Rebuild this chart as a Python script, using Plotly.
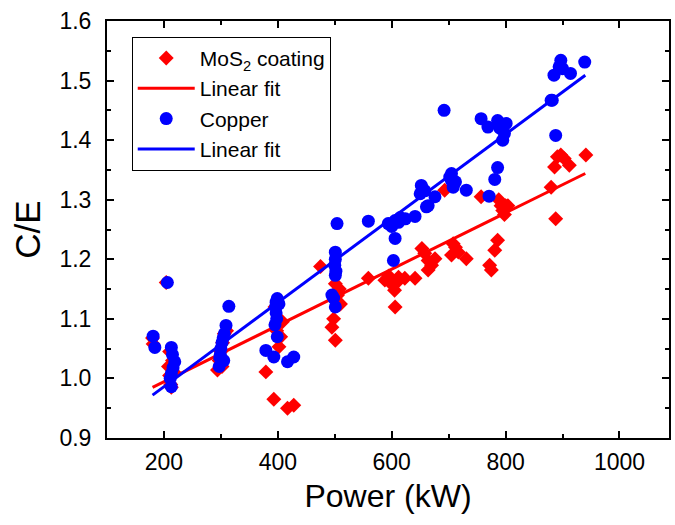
import plotly.graph_objects as go

# MoS2 coating data (Power kW, C/E)
mos2_x = [180, 181, 204, 208, 210, 212, 213, 215, 218, 210,
          294, 297, 300, 303, 306, 310, 302,
          379, 393, 402, 408, 398, 405, 417, 428, 395,
          475, 495, 501, 501, 503, 505, 508, 510, 498,
          559, 588, 595, 600, 605, 608, 612, 606, 623,
          641, 653, 658, 664, 664, 676, 670,
          693, 705, 708, 712, 717, 731,
          757, 772, 775, 781, 786, 788, 792, 795, 798, 800, 804,
          880, 886, 888, 891, 897, 903, 912, 941]
mos2_y = [1.068, 1.058, 1.161, 1.020, 1.005, 0.990, 0.985, 1.030, 1.010, 1.045,
          1.014, 1.030, 1.045, 1.060, 1.075, 1.080, 1.020,
          1.011, 0.965, 1.053, 1.095, 1.080, 1.070, 0.950, 0.955, 1.120,
          1.188, 1.086, 1.064, 1.159, 1.131, 1.140, 1.150, 1.125, 1.100,
          1.168, 1.165, 1.172, 1.158, 1.148, 1.160, 1.170, 1.120, 1.168,
          1.168, 1.218, 1.210, 1.198, 1.182, 1.201, 1.190,
          1.316, 1.207, 1.226, 1.220, 1.212, 1.201,
          1.305, 1.190, 1.182, 1.215, 1.232, 1.300, 1.290, 1.282, 1.275, 1.290, 1.290,
          1.321, 1.355, 1.268, 1.372, 1.375, 1.369, 1.358, 1.375]

# Copper data
cu_x = [181, 184, 206, 213, 219, 213, 213, 216, 211, 215,
        314, 309, 297, 298, 300, 302, 304, 306, 299, 305,
        399, 397, 396, 397, 398, 395, 399, 379, 393, 417, 428, 402,
        501, 501, 500, 502, 501, 504, 495, 501, 498,
        559, 594, 600, 606, 612, 624, 606, 603, 615,
        641, 650, 652, 655, 661, 664, 676, 658,
        692, 705, 705, 708, 702, 731, 712,
        757, 769, 771, 781, 786, 786, 795, 798, 801, 790,
        880, 882, 885, 888, 894, 897, 914, 939, 900]
cu_y = [1.071, 1.052, 1.161, 1.052, 1.028, 1.008, 0.986, 1.018, 1.000, 1.040,
        1.121, 1.089, 1.020, 1.035, 1.050, 1.060, 1.068, 1.075, 1.040, 1.030,
        1.134, 1.128, 1.120, 1.110, 1.100, 1.090, 1.070, 1.047, 1.036, 1.028, 1.036, 1.125,
        1.212, 1.200, 1.190, 1.180, 1.173, 1.260, 1.140, 1.120, 1.135,
        1.264, 1.260, 1.255, 1.265, 1.262, 1.268, 1.235, 1.198, 1.270,
        1.272, 1.310, 1.324, 1.318, 1.288, 1.290, 1.305, 1.315,
        1.450, 1.344, 1.332, 1.321, 1.338, 1.316, 1.330,
        1.436, 1.422, 1.306, 1.334, 1.354, 1.433, 1.400, 1.411, 1.428, 1.420,
        1.467, 1.467, 1.509, 1.408, 1.523, 1.534, 1.512, 1.531, 1.520]

# Linear fit endpoints
fit_x = [180, 940]
mos2_fit_y = [0.985, 1.344]
cu_fit_y = [0.972, 1.509]

x_tickvals = [200, 400, 600, 800, 1000]
y_tickvals = [0.9, 1.0, 1.1, 1.2, 1.3, 1.4, 1.5, 1.6]
y_ticktext = ["0.9", "1.0", "1.1", "1.2", "1.3", "1.4", "1.5", "1.6"]

FONT = "Liberation Sans, Arial, sans-serif"

fig = go.Figure()
fig.add_trace(go.Scatter(x=mos2_x, y=mos2_y, mode="markers", name="MoS<sub>2</sub> coating",
                         marker=dict(symbol="diamond", size=11.5, color="#ff0000", line=dict(width=0))))
fig.add_trace(go.Scatter(x=fit_x, y=mos2_fit_y, mode="lines", name="Linear fit",
                         line=dict(color="#ff0000", width=3)))
fig.add_trace(go.Scatter(x=cu_x, y=cu_y, mode="markers", name="Copper",
                         marker=dict(symbol="circle", size=13, color="#0000ff", line=dict(width=0))))
fig.add_trace(go.Scatter(x=fit_x, y=cu_fit_y, mode="lines", name="Linear fit",
                         line=dict(color="#0000ff", width=3)))

axis_common = dict(showline=True, linecolor="black", linewidth=2, mirror="ticks",
                   ticks="inside", ticklen=7, tickwidth=2, tickcolor="black",
                   showgrid=False, zeroline=False,
                   tickfont=dict(family=FONT, size=23, color="black"))

fig.update_xaxes(range=[100, 1087], tickvals=x_tickvals,
                 minor=dict(ticks="inside", ticklen=4, tickwidth=2, tickcolor="black", dtick=100, tick0=0),
                 title=dict(text="Power (kW)", font=dict(family=FONT, size=32, color="black"), standoff=11),
                 ticklabelstandoff=2,
                 **axis_common)
fig.update_yaxes(range=[0.9, 1.6], tickvals=y_tickvals, ticktext=y_ticktext,
                 minor=dict(ticks="inside", ticklen=4, tickwidth=2, tickcolor="black", dtick=0.05, tick0=0.9),
                 title=dict(text="C/E", font=dict(family=FONT, size=35, color="black"), standoff=8),
                 ticklabelstandoff=9,
                 **axis_common)

fig.update_layout(
    width=675, height=525,
    margin=dict(l=107, r=4, t=21, b=87),
    paper_bgcolor="white", plot_bgcolor="white",
    font=dict(family=FONT, color="black"),
    legend=dict(x=0.044, y=0.962, xanchor="left", yanchor="top",
                bordercolor="black", borderwidth=1, bgcolor="white",
                font=dict(family=FONT, size=21, color="black"),
                itemwidth=57, tracegroupgap=0),
    showlegend=True,
)

fig.write_html("out.html")
